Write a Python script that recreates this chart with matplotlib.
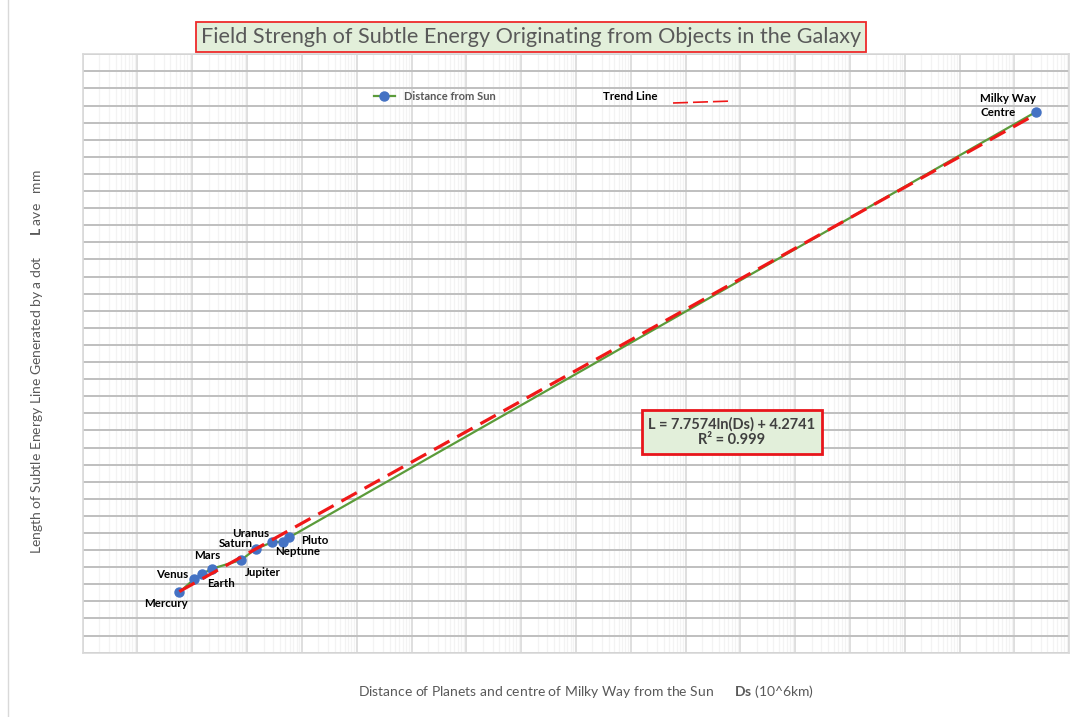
import numpy as np
import matplotlib
matplotlib.use("Agg")
import matplotlib.pyplot as plt
from matplotlib.ticker import LogLocator, MultipleLocator, NullFormatter
from matplotlib.lines import Line2D

plt.rcParams['font.family'] = ['Lato', 'DejaVu Sans']
plt.rcParams['mathtext.fontset'] = 'custom'
plt.rcParams['mathtext.rm'] = 'Lato'
plt.rcParams['mathtext.bf'] = 'Lato:bold'

# distance from the sun (10^6 km) and measured line length L (mm)
names = ['Mercury', 'Venus', 'Earth', 'Mars', 'Jupiter', 'Saturn',
         'Uranus', 'Neptune', 'Pluto', 'Milky Way\nCentre']
dist = [57.9, 108.2, 149.6, 227.9, 778.6, 1433.5, 2872.5, 4495.1, 5906.4, 2.5e17]
length = [35.3, 43.1, 46.0, 49.1, 54.2, 60.7, 64.6, 64.9, 67.5, 316.4]

# label offsets in pixels (dx, dy) and alignment
offsets = [(-13, -11, 'center'), (-22, 4, 'center'), (19, -9, 'center'),
           (-5, 13, 'center'), (22, -12, 'center'), (-20, 5, 'center'),
           (-22, 9, 'center'), (15, -10, 'center'), (25, -3, 'center'),
           (-56, 6, 'left')]

# log trend line from the chart
a, b = 7.7574, 4.2741

fig = plt.figure(figsize=(10.85, 7.17), dpi=100)
ax = fig.add_axes([0.0762, 0.0897, 0.9093, 0.8346])

ax.set_xscale('log')
ax.set_xlim(1, 1e18)
ax.set_ylim(0, 350)
ax.xaxis.set_major_locator(LogLocator(base=10, numticks=40))
ax.xaxis.set_minor_locator(LogLocator(base=10, subs=np.arange(2, 10), numticks=400))
ax.xaxis.set_minor_formatter(NullFormatter())
ax.yaxis.set_major_locator(MultipleLocator(10))
ax.tick_params(which='both', length=0, labelbottom=False, labelleft=False)
ax.grid(which='minor', axis='x', color='#F3F3F3', lw=0.9)
ax.grid(which='major', axis='x', color='#DCDCDC', lw=1.3)
ax.grid(which='major', axis='y', color='#BFBFBF', lw=1.4)
ax.set_axisbelow(True)
for s in ax.spines.values():
    s.set_color('#D9D9D9')
    s.set_linewidth(1.2)

line, = ax.plot(dist, length, color='#5B9B3A', lw=1.6, marker='o', ms=6.5,
                mfc='#4472C4', mec='#4472C4', zorder=3)

xt = np.array([dist[0], dist[-1]])
ax.plot(xt, a * np.log(xt) + b, color='#F01818', lw=2.3, ls=(0, (5.5, 2.8)), zorder=4)

for n, x, y, (dx, dy, ha) in zip(names, dist, length, offsets):
    ax.annotate(n, (x, y), xytext=(dx, dy), textcoords='offset pixels',
                ha=ha, va='center', fontsize=8.3, fontweight='bold', color='black',
                linespacing=1.35, zorder=5)

ax.legend([line], ['Distance from Sun'], loc='center left',
          bbox_to_anchor=(0.285, 0.929), frameon=False, handlelength=1.9,
          labelcolor='#595959', prop={'weight': 'bold', 'size': 8})

fig.text(603 / 1085, 1 - 97 / 717, 'Trend Line', fontsize=8.3, fontweight='bold',
         color='black', va='center', ha='left')
fig.add_artist(Line2D([673 / 1085, 733 / 1085], [1 - 103 / 717, 1 - 101 / 717],
                      transform=fig.transFigure, color='#F01818', lw=1.2,
                      ls=(0, (9, 3))))

fig.text(531 / 1085, 1 - 37 / 717,
         'Field Strengh of Subtle Energy Originating from Objects in the Galaxy',
         fontsize=15.6, color='#595959', ha='center', va='center',
         bbox=dict(boxstyle='square,pad=0.22', facecolor='#E2EFDA',
                   edgecolor='#EE2A2A', lw=1.3))

fig.text(732 / 1085, 1 - 432 / 717, 'L = 7.7574ln(Ds) + 4.2741\nR² = 0.999',
         fontsize=10.5, fontweight='bold', color='#404040', ha='center', va='center',
         linespacing=1.2,
         bbox=dict(boxstyle='square,pad=0.45', facecolor='#E2EFDA',
                   edgecolor='#E8151B', lw=2))

fig.text(586 / 1085, 1 - 692 / 717,
         r'Distance of Planets and centre of Milky Way from the Sun      $\mathbf{Ds}$ (10^6km)',
         fontsize=10, color='#595959', ha='center', va='center')
fig.text(37 / 1085, 1 - 362 / 717,
         r'Length of Subtle Energy Line Generated by a dot      $\mathbf{L}$ ave   mm',
         fontsize=10, color='#595959', ha='center', va='center', rotation=90)

fig.add_artist(Line2D([8 / 1085, 8 / 1085], [0, 1], transform=fig.transFigure,
                      color='#D9D9D9', lw=1))

fig.savefig('out.png', dpi=100)
